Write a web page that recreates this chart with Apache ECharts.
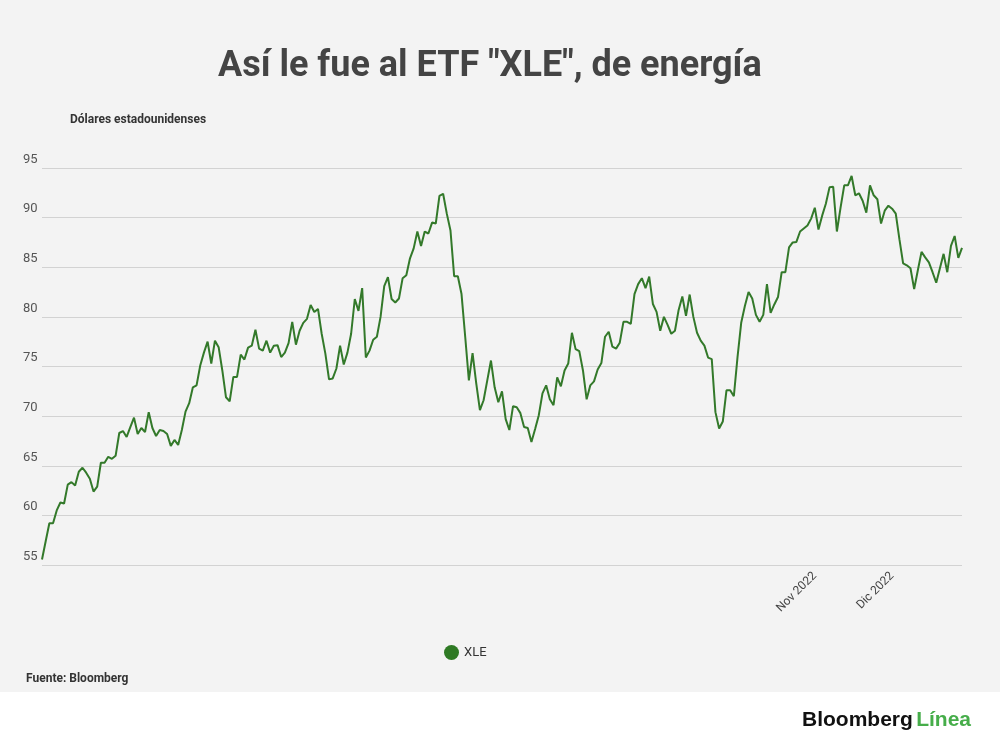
<!DOCTYPE html>
<html>
<head>
<meta charset="utf-8">
<script src="https://cdn.jsdelivr.net/npm/echarts@6/dist/echarts.min.js"></script>
<style>
html,body{margin:0;padding:0;background:#ffffff;}
#chart{width:1000px;height:747px;}
</style>
</head>
<body>
<div id="chart"></div>
<script>
// XLE closing prices (USD), one per trading day
const xleValues = [
55.56,57.4,59.2,59.2,60.5,61.3,61.2,63.1,63.35,63.0,
64.4,64.8,64.3,63.7,62.4,62.9,65.3,65.3,65.9,65.7,
66.0,68.3,68.5,67.9,68.9,69.85,68.2,68.8,68.4,70.4,
68.8,68.0,68.6,68.5,68.2,67.0,67.6,67.1,68.6,70.45,
71.3,72.9,73.1,75.1,76.4,77.5,75.3,77.6,76.95,74.6,
71.9,71.5,73.95,73.95,76.2,75.7,76.9,77.1,78.7,76.8,
76.6,77.6,76.4,77.1,77.15,75.95,76.4,77.35,79.5,77.2,
78.6,79.4,79.8,81.2,80.5,80.8,78.3,76.3,73.7,73.8,
74.8,77.1,75.2,76.4,78.3,81.8,80.6,82.9,75.9,76.6,
77.7,78.0,80.0,83.1,84.0,81.8,81.45,81.85,83.9,84.2,
85.9,86.9,88.6,87.15,88.6,88.4,89.5,89.4,92.2,92.4,
90.4,88.7,84.1,84.1,82.3,78.0,73.6,76.35,73.3,70.6,
71.6,73.6,75.6,72.9,71.4,72.5,69.7,68.6,71.0,70.9,
70.3,68.9,68.8,67.4,68.7,70.1,72.3,73.1,71.7,71.1,
73.9,73.0,74.6,75.3,78.4,76.75,76.55,74.6,71.7,73.1,
73.5,74.7,75.35,78.0,78.5,77.0,76.8,77.4,79.5,79.5,
79.3,82.3,83.3,83.9,82.9,84.05,81.3,80.5,78.6,80.0,
79.2,78.3,78.6,80.7,82.05,80.1,82.25,80.0,78.4,77.6,
77.1,75.9,75.75,70.4,68.75,69.45,72.6,72.6,72.0,75.95,
79.4,81.1,82.5,81.85,80.2,79.5,80.2,83.3,80.4,81.25,
82.0,84.5,84.5,87.0,87.5,87.55,88.6,88.9,89.2,89.9,
91.0,88.8,90.2,91.4,93.05,93.1,88.6,91.0,93.25,93.25,
94.2,92.25,92.45,91.7,90.5,93.25,92.25,91.85,89.4,90.7,
91.2,90.9,90.4,87.8,85.4,85.2,84.9,82.8,84.7,86.55,
86.0,85.5,84.5,83.45,84.9,86.35,84.5,87.15,88.15,85.95,
86.95
];
const startDate = '2021-12-31';
const marketHolidays = ['2022-01-17','2022-02-21','2022-04-15','2022-05-30','2022-06-20','2022-07-04','2022-09-05','2022-11-24','2022-12-26'];
const monthTickLabels = {'2022-11-01':'Nov 2022','2022-12-01':'Dic 2022'};
const yTicks = {min:55, max:95, interval:5};

function fmt(d){
  const m = String(d.getUTCMonth()+1).padStart(2,'0');
  const dd = String(d.getUTCDate()).padStart(2,'0');
  return d.getUTCFullYear()+'-'+m+'-'+dd;
}
const dates = [];
{
  const d = new Date(startDate+'T00:00:00Z');
  while (dates.length < xleValues.length) {
    const s = fmt(d);
    const wd = d.getUTCDay();
    if (wd !== 0 && wd !== 6 && marketHolidays.indexOf(s) < 0) dates.push(s);
    d.setUTCDate(d.getUTCDate()+1);
  }
}

const chart = echarts.init(document.getElementById('chart'), null, {renderer:'canvas'});
const FONT = 'Roboto, "Noto Sans", sans-serif';
chart.setOption({
  backgroundColor: '#ffffff',
  textStyle: {fontFamily: FONT},
  graphic: [
    {type:'rect', left:0, top:0, shape:{width:1000, height:692}, style:{fill:'#f3f3f3'}, z:-10, silent:true},
    {type:'text', left:70, top:114, style:{text:'Dólares estadounidenses', font:'bold 12px '+FONT, fill:'#333333'}},
    {type:'text', left:26, top:673, style:{text:'Fuente: Bloomberg', font:'bold 12px '+FONT, fill:'#333333'}},
    {type:'text', left:802, top:710, style:{
      rich:{
        a:{font:'bold 21px "Liberation Sans", Arial, sans-serif', fill:'#111111'},
        b:{font:'bold 21px "Liberation Sans", Arial, sans-serif', fill:'#46ad4a'}
      },
      text:'{a|Bloomberg} {b|Línea}'
    }}
  ],
  title: {
    text: 'Así le fue al ETF "XLE", de energía',
    left: 213,
    top: 44,
    textStyle: {fontFamily: FONT, fontSize: 36, fontWeight: 'bold', color: '#444444'}
  },
  legend: {
    data: ['XLE'],
    left: 439,
    top: 640,
    icon: 'circle',
    itemWidth: 15,
    itemHeight: 15,
    itemGap: 10,
    textStyle: {fontFamily: FONT, fontSize: 13, color: '#333333'}
  },
  grid: {left: 42, right: 38, top: 168, bottom: 182, containLabel: false},
  xAxis: {
    type: 'category',
    data: dates,
    boundaryGap: false,
    axisLine: {show: false},
    axisTick: {show: false},
    splitLine: {show: false},
    axisLabel: {
      rotate: 45,
      margin: 9,
      fontFamily: FONT,
      fontSize: 12,
      color: '#444444',
      interval: function(i, v){ return monthTickLabels[v] !== undefined; },
      formatter: function(v){ return monthTickLabels[v] || ''; }
    }
  },
  yAxis: {
    type: 'value',
    min: yTicks.min,
    max: yTicks.max,
    interval: yTicks.interval,
    axisLine: {show: false},
    axisTick: {show: false},
    splitLine: {lineStyle: {color: '#d2d2d2', width: 1}},
    axisLabel: {
      align: 'left',
      verticalAlign: 'bottom',
      margin: 19,
      padding: [0,0,2,0],
      fontFamily: FONT,
      fontSize: 13,
      color: '#555555'
    }
  },
  series: [{
    name: 'XLE',
    type: 'line',
    data: xleValues,
    showSymbol: false,
    symbol: 'circle',
    itemStyle: {color: '#2f7a24'},
    lineStyle: {color: '#33792a', width: 2},
    animation: false
  }]
});
</script>
</body>
</html>
